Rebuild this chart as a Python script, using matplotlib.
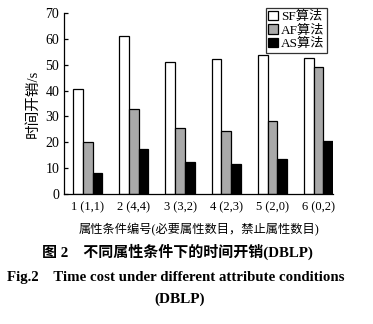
import matplotlib
matplotlib.use("Agg")
import matplotlib.pyplot as plt
import numpy as np

# data
groups = ["1 (1,1)", "2 (4,4)", "3 (3,2)", "4 (2,3)", "5 (2,0)", "6 (0,2)"]
sf_time = [40.5, 61.0, 51.0, 52.2, 53.6, 52.6]
af_time = [20.2, 33.0, 25.7, 24.4, 28.2, 49.2]
as_time = [8.3, 17.5, 12.3, 11.8, 13.6, 20.6]
series_names = ["SF算法", "AF算法", "AS算法"]
y_ticks = [0, 10, 20, 30, 40, 50, 60, 70]

plt.rcParams['font.family'] = ['Liberation Serif', 'Noto Sans CJK SC']
plt.rcParams['axes.unicode_minus'] = False

fig = plt.figure(figsize=(3.73, 3.24), dpi=100)
ax = fig.add_axes([0.172, 0.401, 0.721, 0.559])

x = np.arange(len(groups))
w = 0.21
ax.bar(x - w, sf_time, w, color="white", edgecolor="black", linewidth=0.9, label=series_names[0])
ax.bar(x, af_time, w, color="#a9a9a9", edgecolor="black", linewidth=0.9, label=series_names[1])
ax.bar(x + w, as_time, w, color="black", edgecolor="black", linewidth=0.9, label=series_names[2])

ax.set_xlim(-0.51, 5.315)
ax.set_ylim(0, 70)
ax.set_yticks(y_ticks)
ax.set_xticks(x)
ax.set_xticklabels(groups, fontsize=9)
ax.tick_params(axis="y", direction="in", length=3, labelsize=10, width=0.9)
ax.tick_params(axis="x", length=0, pad=5)

ax.spines['top'].set_visible(False)
ax.spines['right'].set_visible(False)
ax.spines['left'].set_linewidth(0.9)
ax.spines['bottom'].set_linewidth(0.9)

ax.set_ylabel("时间开销/s", fontsize=10.5, labelpad=4)
ax.set_xlabel("属性条件编号(必要属性数目，禁止属性数目)", fontsize=8.8, labelpad=7)

leg = ax.legend(loc="upper right", bbox_to_anchor=(0.978, 1.025), fontsize=9.5,
                frameon=True, fancybox=False, edgecolor="black",
                handlelength=0.7, handleheight=0.7, handletextpad=0.25,
                borderpad=0.2, labelspacing=0.08, borderaxespad=0.0)
leg.get_frame().set_linewidth(0.9)

fig.text(0.475, 0.222, "图 2    不同属性条件下的时间开销(DBLP)", ha="center", va="center",
         fontsize=10.8, fontweight="bold")
fig.text(0.472, 0.145, "Fig.2    Time cost under different attribute conditions",
         ha="center", va="center", fontsize=10.7, fontweight="bold")
fig.text(0.482, 0.077, "(DBLP)", ha="center", va="center", fontsize=11, fontweight="bold")

fig.savefig("out.png", dpi=100)
